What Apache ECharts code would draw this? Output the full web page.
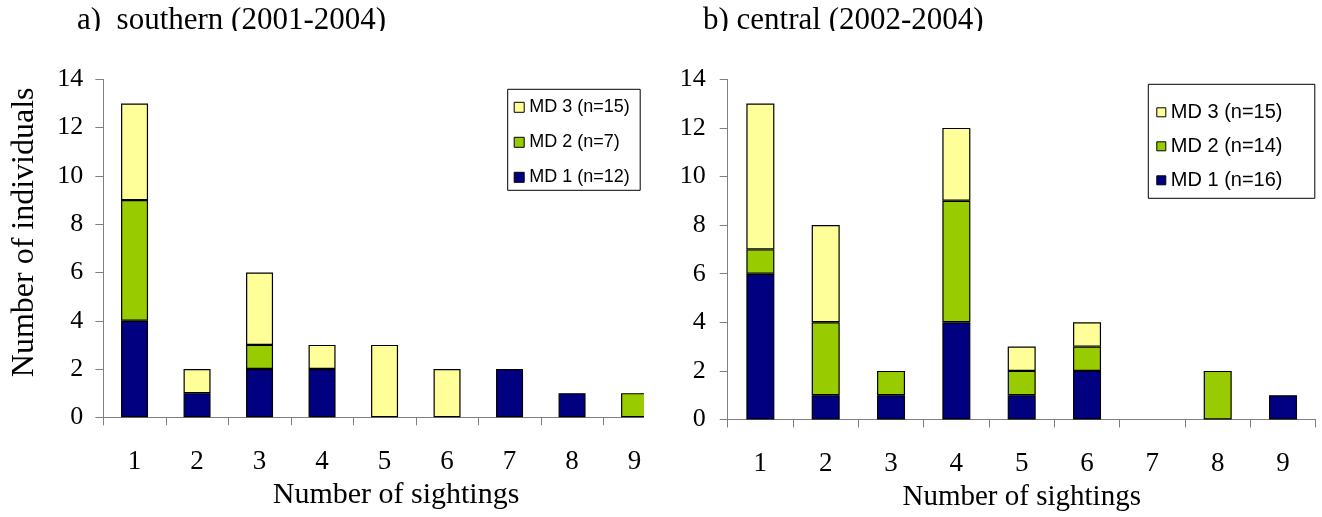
<!DOCTYPE html>
<html><head><meta charset="utf-8">
<script src="https://cdn.jsdelivr.net/npm/echarts@6/dist/echarts.min.js"></script>
<style>
html,body{margin:0;padding:0;background:#fff;width:1322px;height:517px;overflow:hidden}
#a{position:absolute;left:0;top:0;width:644px;height:517px}
#b{position:absolute;left:644px;top:0;width:678px;height:517px}
</style></head>
<body><div id="a"></div><div id="b"></div>
<script>
// ---- data ----
const categories = ['1','2','3','4','5','6','7','8','9'];
const yMin = 0, yMax = 14, yStep = 2;

const southernMD1 = [4,1,2,2,0,0,2,1,0];
const southernMD2 = [5,0,1,0,0,0,0,0,1];
const southernMD3 = [4,1,3,1,3,2,0,0,0];
const southernNames = ['MD 1 (n=12)','MD 2 (n=7)','MD 3 (n=15)'];

const centralMD1 = [6,1,1,4,1,2,0,0,1];
const centralMD2 = [1,3,1,5,1,1,0,2,0];
const centralMD3 = [6,4,0,3,1,1,0,0,0];
const centralNames = ['MD 1 (n=16)','MD 2 (n=14)','MD 3 (n=15)'];

const titleA = 'a)  southern (2001-2004)';
const titleB = 'b) central (2002-2004)';
const xTitle = 'Number of sightings';
const yTitle = 'Number of individuals';

// ---- style ----
const colors = ['#000080','#99CC00','#FFFF99'];
const SERIF = 'Liberation Serif, Times New Roman, serif';
const SANS = 'Liberation Sans, Arial, sans-serif';

function build(cfg){
  const series = [cfg.d1, cfg.d2, cfg.d3].map((arr, i) => ({
    name: cfg.names[i], type: 'bar', stack: 'total', barWidth: cfg.barWidth,
    data: arr.map(v => v === 0 ? null : v),
    itemStyle: {color: colors[i], borderColor: '#000', borderWidth: 1.2},
    emphasis: {disabled: true}, animation: false
  }));
  return {
    animation: false,
    graphic: [
      {type:'text', left: cfg.titleX, top: 5, z: 10,
       style:{text: cfg.title, font: '31px ' + SERIF, fill:'#000'}},
      {type:'rect', shape:{x:0, y:31, width:700, height:20}, z: 20,
       style:{fill:'#fff'}}
    ],
    legend: {
      orient: 'vertical', left: cfg.legLeft, top: cfg.legTop,
      data: [cfg.names[2], cfg.names[1], cfg.names[0]],
      icon: 'rect', itemWidth: cfg.icon, itemHeight: cfg.icon,
      itemGap: cfg.legGap, padding: cfg.legPad,
      borderColor: '#000', borderWidth: 1, backgroundColor: '#fff',
      itemStyle: {borderColor: '#000', borderWidth: 1},
      textStyle: {fontFamily: SANS, fontSize: cfg.legFont, lineHeight: cfg.legFont,
                  color: '#000', width: cfg.legTextW},
      selectedMode: false
    },
    grid: {left: cfg.gl, top: cfg.gt, width: cfg.gw, height: cfg.gh,
           containLabel: false, outerBoundsMode: 'none'},
    xAxis: {
      type: 'category', data: categories, boundaryGap: true,
      name: xTitle, nameLocation: 'middle', nameGap: cfg.xNameGap,
      nameTextStyle: {fontFamily: SERIF, fontSize: cfg.xNameFont, color: '#000', padding: cfg.xNamePad},
      axisLine: {lineStyle: {color: '#808080', width: 1}},
      axisTick: {show: true, length: 8, lineStyle: {color: '#808080'}},
      axisLabel: {fontFamily: SERIF, fontSize: 27, color: '#000', margin: 31}
    },
    yAxis: {
      type: 'value', min: yMin, max: yMax, interval: yStep,
      name: cfg.showYName ? yTitle : '', nameLocation: 'middle', nameGap: 63,
      nameTextStyle: {fontFamily: SERIF, fontSize: 32, color: '#000', padding: [0,0,0,32]},
      splitLine: {show: false},
      axisLine: {show: true, lineStyle: {color: '#808080', width: 1}},
      axisTick: {show: true, length: 8, lineStyle: {color: '#808080'}},
      axisLabel: {fontFamily: SERIF, fontSize: 26, color: '#000', margin: cfg.yMargin}
    },
    series
  };
}

const ca = echarts.init(document.getElementById('a'), null, {renderer: 'canvas'});
ca.setOption(build({
  d1: southernMD1, d2: southernMD2, d3: southernMD3, names: southernNames,
  title: titleA, titleX: 77, barWidth: 27,
  gl: 103.3, gt: 79.4, gw: 562.5, gh: 337.9,
  legLeft: 507.7, legTop: 89.3, legGap: 17, legPad: [9, 5, 4, 6], icon: 10, legFont: 18, legTextW: 106,
  xNameGap: 62, xNameFont: 30, xNamePad: [0,0,0,23], yMargin: 20, showYName: true
}));

const cb = echarts.init(document.getElementById('b'), null, {renderer: 'canvas'});
cb.setOption(build({
  d1: centralMD1, d2: centralMD2, d3: centralMD3, names: centralNames,
  title: titleB, titleX: 59, barWidth: 28,
  gl: 83.7, gt: 79.3, gw: 588, gh: 340.2,
  legLeft: 504.3, legTop: 84.3, legGap: 14, legPad: [18, 14, 8, 8], icon: 9, legFont: 20, legTextW: 130,
  xNameGap: 62, xNameFont: 29, xNamePad: [0,0,0,0], yMargin: 22, showYName: false
}));
</script>
</body></html>
